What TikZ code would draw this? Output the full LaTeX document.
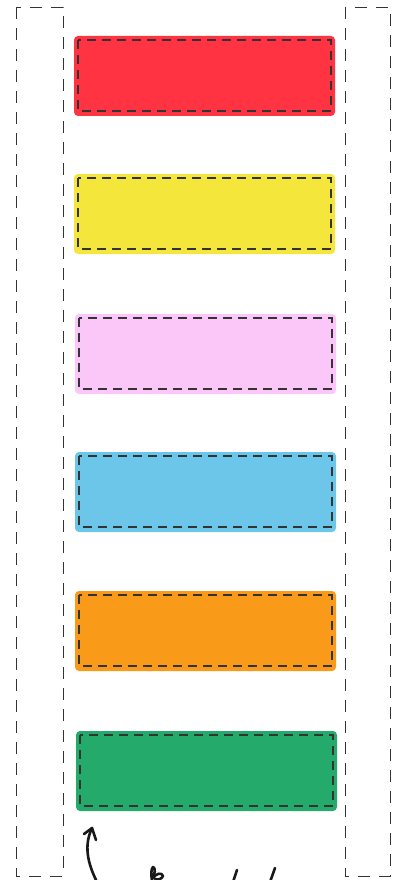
\documentclass[tikz,border=0pt]{standalone}
\begin{document}
\begin{tikzpicture}[x=1pt,y=-1pt,
  lane/.style={draw=black!80,line width=0.9pt,dash pattern=on 12pt off 9pt},
  card/.style={rounded corners=4pt,line width=0pt},
  inner/.style={draw=black!80,line width=1.1pt,dash pattern=on 9pt off 6pt},
  hand/.style={draw=black!90,line width=2.6pt,line cap=round,line join=round}]
\useasboundingbox (0,0) rectangle (402,880);
\definecolor{cred}{HTML}{FF3341}
\definecolor{cyellow}{HTML}{F5E63B}
\definecolor{cpink}{HTML}{FBC6F8}
\definecolor{cblue}{HTML}{6BC6EA}
\definecolor{corange}{HTML}{F99A18}
\definecolor{cgreen}{HTML}{24AA6B}
% lanes
\draw[lane] (16,7) rectangle (63,876);
\draw[lane] (345,7) rectangle (390,876);
% cards
\foreach \c/\x/\y in {cred/74/36, cyellow/74/174, cpink/75/314, cblue/75/452, corange/75/591, cgreen/76/731}{
  \fill[\c,card] (\x,\y) rectangle ++(261,80);
  \draw[inner] (\x+4,\y+4) rectangle ++(253,71);
}
% arrow
\coordinate (tail) at (97,882);
\coordinate (tip) at (92,828);
\draw[hand] (tail) .. controls (87,862) and (84,845) .. (tip);
\draw[hand] (84,834) -- (tip) -- (96,840);
% cut-off handwriting
\draw[hand] (152,881) .. controls (151,874) and (151,869) .. (153,867) .. controls (156,868) and (155,874) .. (152,879) .. controls (156,873) and (162,872) .. (163,876) .. controls (162,879) and (158,880) .. (155,879);
\draw[hand] (233,882) -- (237,870);
\draw[hand] (270,882) -- (275,868);
\end{tikzpicture}
\end{document}
